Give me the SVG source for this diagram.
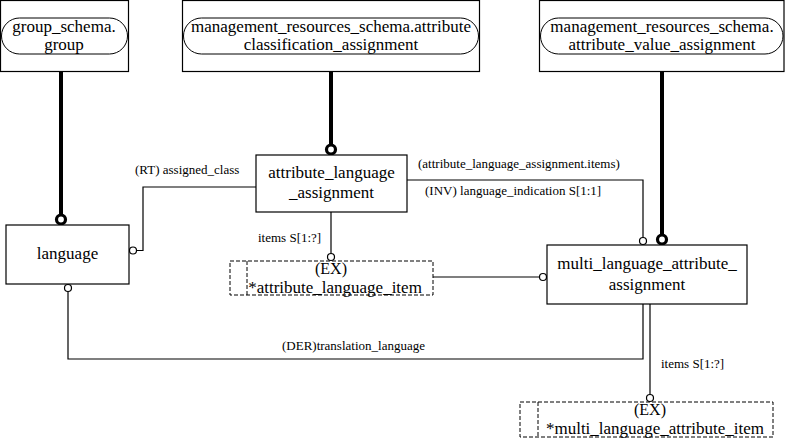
<svg xmlns="http://www.w3.org/2000/svg" width="785" height="440" viewBox="0 0 785 440">
<style>
.box{fill:#fff;stroke:#000;stroke-width:1.2}
.dash{fill:none;stroke:#000;stroke-width:1;stroke-dasharray:4,2}
.pill{fill:#fff;stroke:#000;stroke-width:1}
.t{font-family:"Liberation Serif","Times New Roman",serif;font-size:17px;fill:#000;text-anchor:middle}
.e{font-family:"Liberation Serif","Times New Roman",serif;font-size:16px;fill:#000;text-anchor:middle}
.s{font-family:"Liberation Serif","Times New Roman",serif;font-size:13px;fill:#000}
.ln{fill:none;stroke:#000;stroke-width:1.2}
.thick{fill:none;stroke:#000;stroke-width:4}
.oc{fill:#fff;stroke:#000;stroke-width:1.2}
.tc{fill:#fff;stroke:#000;stroke-width:3.2}
</style>
<rect width="785" height="440" fill="#fff"/>
<g id="connectors">
<line class="thick" x1="61" y1="71" x2="61" y2="215"/>
<circle class="tc" cx="61" cy="219.5" r="4.5"/>
<line class="thick" x1="331" y1="71" x2="331" y2="145"/>
<circle class="tc" cx="331" cy="149.5" r="4.5"/>
<line class="thick" x1="662" y1="71" x2="662" y2="235"/>
<circle class="tc" cx="662" cy="239.5" r="4.5"/>
<polyline class="ln" points="136.5,250.5 143,250.5 143,187 256,187"/>
<circle class="oc" cx="133" cy="250.5" r="3.5"/>
<polyline class="ln" points="68,291.5 68,359 643,359 643,304"/>
<circle class="oc" cx="68" cy="288" r="3.5"/>
<line class="ln" x1="331" y1="212" x2="331" y2="253.5"/>
<circle class="oc" cx="331" cy="257" r="3.5"/>
<line class="ln" x1="433" y1="277" x2="539.5" y2="277"/>
<circle class="oc" cx="543" cy="277" r="3.5"/>
<polyline class="ln" points="407,180 643,180 643,237.5"/>
<circle class="oc" cx="643" cy="241" r="3.5"/>
<line class="ln" x1="650" y1="304" x2="650" y2="394.5"/>
<circle class="oc" cx="650" cy="398" r="3.5"/>
<text class="s" x="135" y="174">(RT) assigned_class</text>
<text class="s" x="418" y="168">(attribute_language_assignment.items)</text>
<text class="s" x="425" y="195">(INV) language_indication S[1:1]</text>
<text class="s" x="258" y="242">items S[1:?]</text>
<text class="s" x="282" y="350">(DER)translation_language</text>
<text class="s" x="661" y="368">items S[1:?]</text>
</g>
<g id="group_schema.group">
<rect class="box" x="0.5" y="0.5" width="128" height="71"/>
<rect class="pill" x="1.5" y="18" width="126" height="36" rx="18" ry="18"/>
<text class="t" x="64" y="32">group_schema.</text>
<text class="t" x="64" y="50">group</text>
</g>
<g id="attribute_classification_assignment">
<rect class="box" x="182.5" y="0.5" width="297" height="71"/>
<rect class="pill" x="183.5" y="18" width="295" height="36" rx="18" ry="18"/>
<text class="t" x="331" y="32">management_resources_schema.attribute</text>
<text class="t" x="331" y="50">classification_assignment</text>
</g>
<g id="attribute_value_assignment">
<rect class="box" x="539.5" y="0.5" width="244.5" height="71"/>
<rect class="pill" x="540.5" y="18" width="242.5" height="36" rx="18" ry="18"/>
<text class="t" x="662" y="32">management_resources_schema.</text>
<text class="t" x="662" y="50">attribute_value_assignment</text>
</g>
<g id="language">
<rect class="box" x="6" y="225" width="123" height="59"/>
<text class="t" x="67.5" y="259">language</text>
</g>
<g id="attribute_language_assignment">
<rect class="box" x="256" y="155" width="151" height="57"/>
<text class="t" x="331.5" y="178">attribute_language</text>
<text class="t" x="331.5" y="198">_assignment</text>
</g>
<g id="attribute_language_item">
<rect class="dash" x="230" y="261" width="203" height="34"/>
<line class="dash" x1="247" y1="261" x2="247" y2="295"/>
<text class="e" x="331" y="273.5">(EX)</text>
<text class="t" x="335" y="292.5">*attribute_language_item</text>
</g>
<g id="multi_language_attribute_assignment">
<rect class="box" x="547" y="245" width="200" height="59"/>
<text class="t" x="647" y="269">multi_language_attribute_</text>
<text class="t" x="647" y="290">assignment</text>
</g>
<g id="multi_language_attribute_item">
<rect class="dash" x="520" y="402" width="253" height="35"/>
<line class="dash" x1="538" y1="402" x2="538" y2="437"/>
<text class="e" x="650" y="415">(EX)</text>
<text class="t" x="655" y="433.5">*multi_language_attribute_item</text>
</g>
</svg>
